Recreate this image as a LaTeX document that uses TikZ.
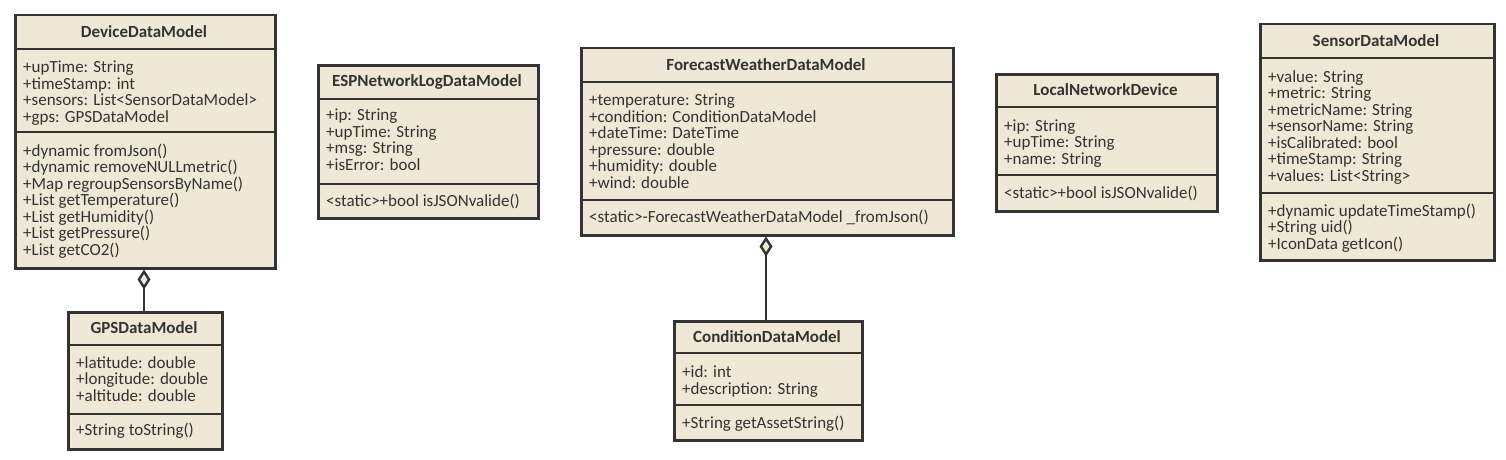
\documentclass[tikz,border=0pt]{standalone}
\usepackage{fontspec}
\setmainfont{Carlito}
\usetikzlibrary{arrows.meta}
\definecolor{clsfill}{HTML}{EFE8D7}
\definecolor{clsline}{HTML}{333333}
\definecolor{clstext}{HTML}{333333}
\tikzset{
  clsbox/.style={draw=clsline, fill=clsfill, line width=2.5pt, inner sep=0pt, rectangle},
  sepline/.style={draw=clsline, line width=2.4pt},
  ttl/.style={font=\fontsize{17}{16.5}\selectfont\bfseries, text=clstext, inner sep=0pt},
  txt/.style={font=\fontsize{17}{16.5}\selectfont, text=clstext, inner sep=0pt, align=left, anchor=base west},
  aggr/.style={draw=clsline, line width=2.4pt, -{Diamond[length=20pt, width=13pt, fill=clsfill]}},
}
\newcommand{\umlbox}[8]{%
  \node[clsbox, minimum width={#4-#2}, minimum height={#5-#3}, anchor=north west] (#1) at (#2,#3) {};
  \draw[sepline] (#1.west |- 0,#6) -- (#1.east |- 0,#6);
  \draw[sepline] (#1.west |- 0,#7) -- (#1.east |- 0,#7);
  \node[ttl] (#1-t) at ({(#2+#4)/2},{(#3+#6)/2}) {#8};
}
\begin{document}
\begin{tikzpicture}[x=1pt, y=-1pt]
\useasboundingbox[fill=white] (0,0) rectangle (1506,460);

% DeviceDataModel
\umlbox{ddm}{14}{14}{274}{267}{49}{132}{DeviceDataModel}
\node[txt] (ddm-a) at (23,122) {+upTime: String\\+timeStamp: int\\+sensors: List<SensorDataModel>\\+gps: GPSDataModel};
\node[txt] (ddm-m) at (23,255) {+dynamic fromJson()\\+dynamic removeNULLmetric()\\+Map regroupSensorsByName()\\+List getTemperature()\\+List getHumidity()\\+List getPressure()\\+List getCO2()};

% GPSDataModel
\umlbox{gps}{67}{311}{221}{448}{345}{414}{GPSDataModel}
\node[txt] (gps-a) at (76,401) {+latitude: double\\+longitude: double\\+altitude: double};
\node[txt] (gps-m) at (76,435) {+String toString()};

% ESPNetworkLogDataModel
\umlbox{esp}{317}{64}{537}{217}{99}{184}{ESPNetworkLogDataModel}
\node[txt] (esp-a) at (326,170) {+ip: String\\+upTime: String\\+msg: String\\+isError: bool};
\node[txt] (esp-m) at (326,206) {<static>+bool isJSONvalide()};

% ForecastWeatherDataModel
\umlbox{fwd}{580}{47}{952}{234}{82}{200}{ForecastWeatherDataModel}
\node[txt] (fwd-a) at (589,188) {+temperature: String\\+condition: ConditionDataModel\\+dateTime: DateTime\\+pressure: double\\+humidity: double\\+wind: double};
\node[txt] (fwd-m) at (589,222) {<static>-ForecastWeatherDataModel \_fromJson()};

% ConditionDataModel
\umlbox{cdm}{673}{320}{861}{439}{353}{405}{ConditionDataModel}
\node[txt] (cdm-a) at (682,394) {+id: int\\+description: String};
\node[txt] (cdm-m) at (682,428) {+String getAssetString()};

% LocalNetworkDevice
\umlbox{lnd}{995}{73}{1216}{210}{107}{175}{LocalNetworkDevice}
\node[txt] (lnd-a) at (1004,164) {+ip: String\\+upTime: String\\+name: String};
\node[txt] (lnd-m) at (1004,198) {<static>+bool isJSONvalide()};

% SensorDataModel
\umlbox{sdm}{1259}{23}{1493}{259}{58}{193}{SensorDataModel}
\node[txt] (sdm-a) at (1268,181) {+value: String\\+metric: String\\+metricName: String\\+sensorName: String\\+isCalibrated: bool\\+timeStamp: String\\+values: List<String>};
\node[txt] (sdm-m) at (1268,249) {+dynamic updateTimeStamp()\\+String uid()\\+IconData getIcon()};

% aggregations
\draw[aggr] (gps.north -| 144,0) -- (ddm.south -| 144,0);
\draw[aggr] (cdm.north -| 766,0) -- (fwd.south -| 766,0);
\end{tikzpicture}
\end{document}
